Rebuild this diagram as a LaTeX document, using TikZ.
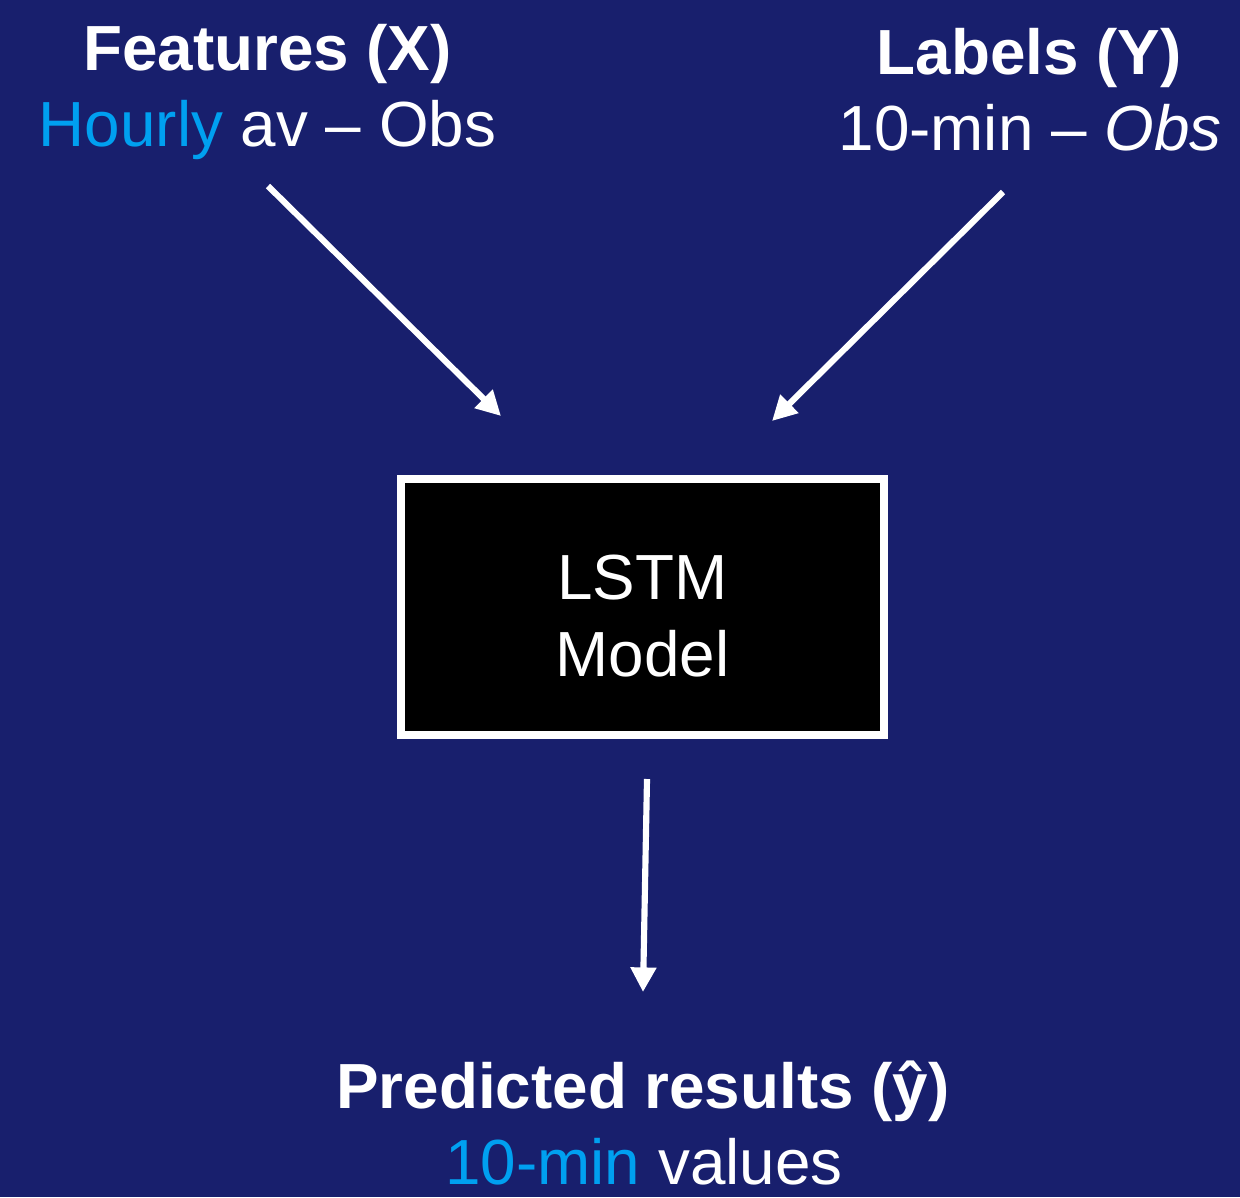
\documentclass[tikz,border=0pt]{standalone}
\usepackage{fontspec}
\setmainfont{Liberation Sans}
\usetikzlibrary{arrows.meta}
\definecolor{navy}{RGB}{24,31,109}
\definecolor{skyblue}{RGB}{0,160,240}
\pgfdeclarelayer{background}
\pgfdeclarelayer{edgelayer}
\pgfdeclarelayer{nodelayer}
\pgfsetlayers{background,edgelayer,nodelayer,main}
\tikzstyle{arrow}=[draw=white, line width=3.5pt, -{Triangle[length=14pt,width=14pt]}]
\tikzstyle{heading}=[text=white, font=\fontsize{36.3}{43}\selectfont\bfseries, anchor=base, inner sep=0pt]
\tikzstyle{textline}=[text=white, font=\fontsize{36.3}{43}\selectfont, anchor=base, inner sep=0pt]
\tikzstyle{modelbox}=[rectangle, draw=white, fill=black, line width=4.5pt, minimum width=9.66cm, minimum height=5.12cm, inner sep=0pt]

\begin{document}
\begin{tikzpicture}[x=0.02cm, y=-0.02cm]
				\begin{pgfonlayer}{background}
					\fill[navy] (0, 0) rectangle (1240, 1197);
					\useasboundingbox (0, 0) rectangle (1240, 1197);
				\end{pgfonlayer}
				\begin{pgfonlayer}{nodelayer}
					\node [style=heading] (feat) at (267.5, 70) {Features (X)};
					\node [style=textline] (featsub) at (267.5, 146) {\textcolor{skyblue}{Hourly} av – Obs};
					\node [style=heading] (lab) at (1029, 74) {Labels (Y)};
					\node [style=textline] (labsub) at (1030, 150) {10-min – \textit{Obs}};
					\node [style=modelbox] (model) at (642.5, 607) {};
					\node [style=textline] (lstm) at (642.5, 599) {LSTM};
					\node [style=textline] (modeltxt) at (642.5, 676) {Model};
					\node [style=heading] (pred) at (643, 1108) {Predicted results (ŷ)};
					\node [style=textline] (predsub) at (644, 1184) {\textcolor{skyblue}{10-min} values};
				\end{pgfonlayer}
				\begin{pgfonlayer}{edgelayer}
					\coordinate (f0) at (268, 186);
					\coordinate (f1) at (501, 416);
					\coordinate (l0) at (1003, 192);
					\coordinate (l1) at (772, 421);
					\coordinate (m0) at (647, 779);
					\coordinate (m1) at (643, 992);
					\draw [style=arrow] (f0) to (f1);
					\draw [style=arrow] (l0) to (l1);
					\draw [style=arrow] (m0) to (m1);
				\end{pgfonlayer}
			\end{tikzpicture}
\end{document}
